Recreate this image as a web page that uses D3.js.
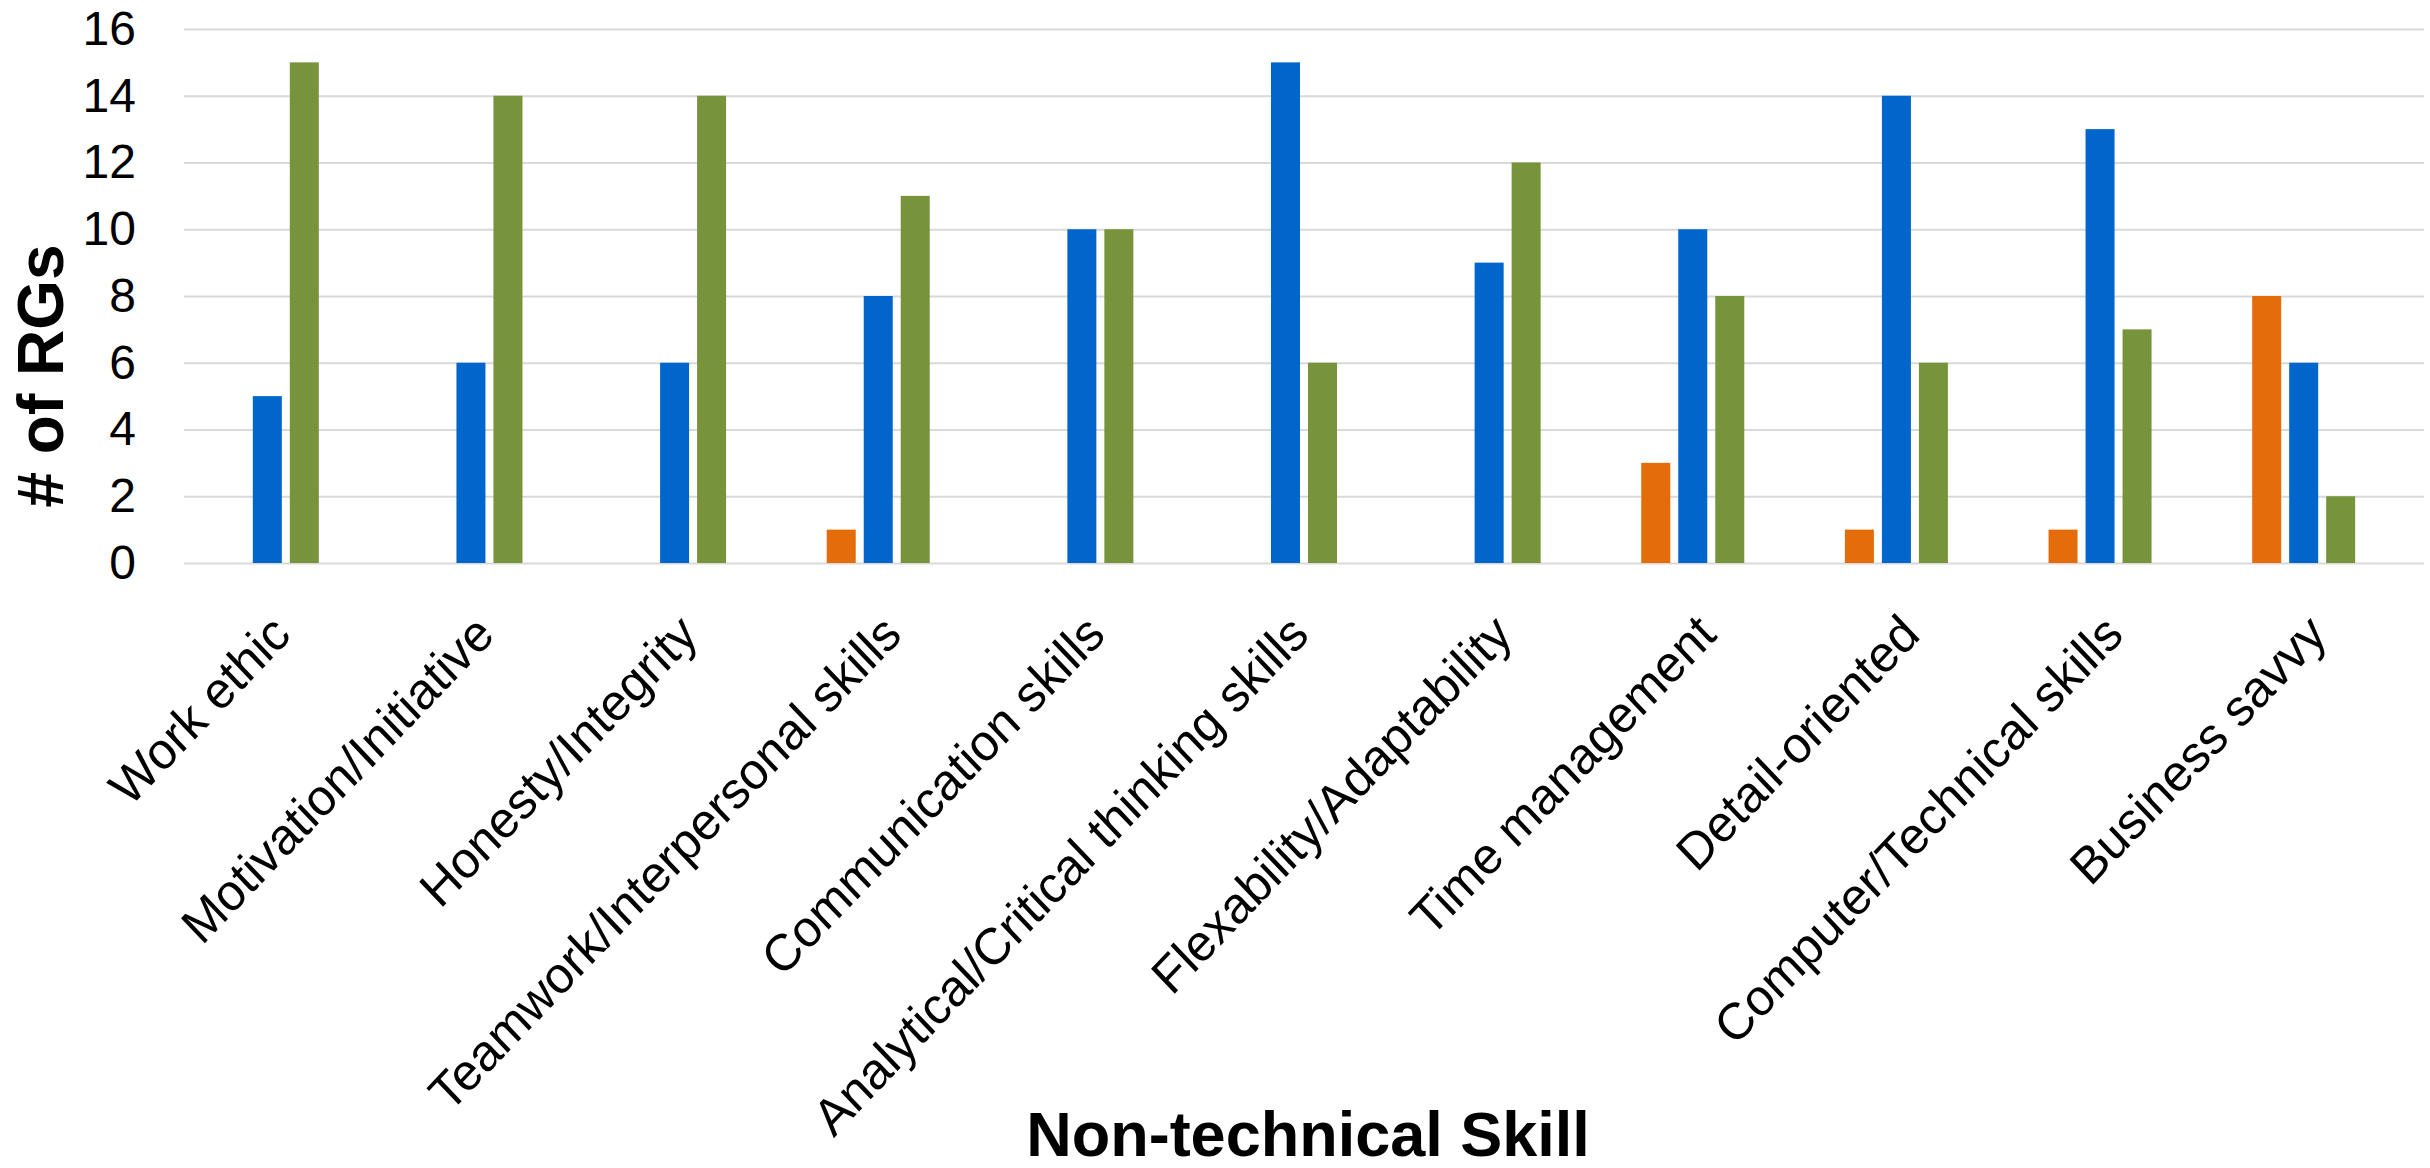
<!DOCTYPE html>
<html>
<head>
<meta charset="utf-8">
<script src="https://cdn.jsdelivr.net/npm/d3@7"></script>
<style>
  html, body { margin: 0; padding: 0; background: #fff; }
  svg { display: block; font-family: "Liberation Sans", Arial, sans-serif; }
</style>
</head>
<body>
<div id="chart"></div>
<script>
// categories on the x axis
const skills = [
  'Work ethic',
  'Motivation/Initiative',
  'Honesty/Integrity',
  'Teamwork/Interpersonal skills',
  'Communication skills',
  'Analytical/Critical thinking skills',
  'Flexability/Adaptability',
  'Time management',
  'Detail-oriented',
  'Computer/Technical skills',
  'Business savvy'
];

// one array per series (orange, blue, green, and an empty fourth slot)
const seriesOrange = [0, 0, 0, 1, 0, 0, 0, 3, 1, 1, 8];
const seriesBlue   = [5, 6, 6, 8, 10, 15, 9, 10, 14, 13, 6];
const seriesGreen  = [15, 14, 14, 11, 10, 6, 12, 8, 6, 7, 2];
const seriesEmpty  = [0, 0, 0, 0, 0, 0, 0, 0, 0, 0, 0];

const yTicks = [0, 2, 4, 6, 8, 10, 12, 14, 16];

const series = [
  { key: 'orange', color: '#E46C0A', values: seriesOrange },
  { key: 'blue', color: '#0066CC', values: seriesBlue },
  { key: 'green', color: '#77933C', values: seriesGreen },
  { key: 'empty', color: 'none', values: seriesEmpty }
];

const width = 2430, height = 1168;
const margin = { top: 29, right: 6, bottom: 605, left: 184 };
const plotW = width - margin.left - margin.right;
const plotH = height - margin.top - margin.bottom;

const svg = d3.select('#chart')
  .append('svg')
  .attr('width', width)
  .attr('height', height);

const g = svg.append('g')
  .attr('transform', `translate(${margin.left},${margin.top})`);

const x0 = d3.scaleBand()
  .domain(skills)
  .range([0, plotW])
  .paddingInner(0.3125)
  .paddingOuter(0.15625);

const x1 = d3.scaleBand()
  .domain(series.map(s => s.key))
  .range([0, x0.bandwidth()])
  .paddingInner(0.216);

const y = d3.scaleLinear()
  .domain([0, 16])
  .range([plotH, 0]);

// y axis with gridlines
const yAxis = g.append('g')
  .call(d3.axisLeft(y)
    .tickValues(yTicks)
    .tickSize(-plotW)
    .tickPadding(48));

yAxis.select('.domain').remove();
yAxis.selectAll('line')
  .attr('stroke', '#d9d9d9')
  .attr('stroke-width', 2);
yAxis.selectAll('text')
  .attr('font-size', 48)
  .attr('fill', '#000')
  .attr('font-family', '"Liberation Sans", Arial, sans-serif');

// bars
const groups = g.append('g')
  .selectAll('g')
  .data(skills)
  .join('g')
  .attr('transform', d => `translate(${x0(d)},0)`);

groups.selectAll('rect')
  .data((d, i) => series.map(s => ({ key: s.key, color: s.color, value: s.values[i] })))
  .join('rect')
  .attr('x', d => x1(d.key))
  .attr('y', d => y(d.value))
  .attr('width', x1.bandwidth())
  .attr('height', d => y(0) - y(d.value))
  .attr('fill', d => d.color);

// x axis labels, slightly stretched vertically like the source picture
const xAxis = g.append('g')
  .attr('transform', `translate(0,${plotH})`)
  .call(d3.axisBottom(x0).tickSize(0));

xAxis.select('.domain').remove();
xAxis.selectAll('text')
  .attr('x', 0)
  .attr('y', 0)
  .attr('dy', 0)
  .attr('text-anchor', 'end')
  .attr('transform', 'translate(7,74) scale(1,1.05) rotate(-45)')
  .attr('font-size', 49)
  .attr('fill', '#000')
  .attr('font-family', '"Liberation Sans", Arial, sans-serif');

// axis titles
svg.append('text')
  .attr('transform', 'translate(63,376) rotate(-90)')
  .attr('text-anchor', 'middle')
  .attr('font-size', 64)
  .attr('font-weight', 'bold')
  .text('# of RGs');

svg.append('text')
  .attr('x', margin.left + plotW / 2 + 4)
  .attr('y', 1156)
  .attr('text-anchor', 'middle')
  .attr('font-size', 63)
  .attr('font-weight', 'bold')
  .text('Non-technical Skill');
</script>
</body>
</html>
